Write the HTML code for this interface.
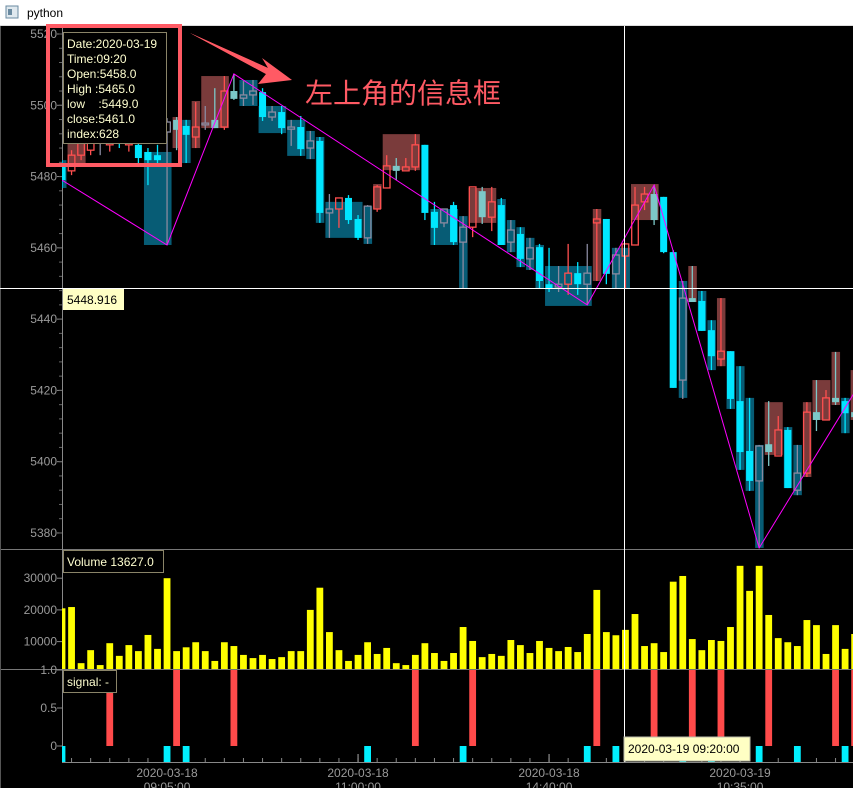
<!DOCTYPE html>
<html><head><meta charset="utf-8"><style>
html,body{margin:0;padding:0;background:#000;width:853px;height:788px;overflow:hidden}
svg text{font-family:"Liberation Sans","Noto Sans CJK SC",sans-serif}
</style></head><body>
<svg id="chart" width="853" height="788" viewBox="0 0 853 788" xmlns="http://www.w3.org/2000/svg">
<defs>
<clipPath id="cpMain"><rect x="62" y="26" width="791" height="523"/></clipPath>
<clipPath id="cpVol"><rect x="62" y="549" width="791" height="120"/></clipPath>
<clipPath id="cpSig"><rect x="62" y="669" width="791" height="93"/></clipPath>
</defs>
<rect x="0" y="0" width="853" height="788" fill="#000"/>
<g>
<rect x="0" y="0" width="853" height="25" fill="#fff"/>
<rect x="0" y="25" width="853" height="1" fill="#ddd"/>
<rect x="6" y="6" width="12" height="12" fill="#dfe8ee" stroke="#6a8aa0"/>
<rect x="8" y="9" width="4" height="6" fill="#6a8aa0"/>
<text x="27" y="17" font-size="12" fill="#000">python</text>
</g>
<g id="axes"></g>
<g id="mainMarks" clip-path="url(#cpMain)"></g>
<g id="volMarks" clip-path="url(#cpVol)"></g>
<g id="sigMarks" clip-path="url(#cpSig)"></g>
<g id="overlay"></g>
</svg>
<script>
// ---- data ----
const opens  = [5483.2,5481.6,5486.0,5487.4,5491.7,5488.9,5494.5,5488.9,5488.9,5486.9,5486.0,5495.3,5495.9,5494.2,5491.1,5495.0,5495.9,5493.9,5504.0,5502.9,5504.0,5503.7,5498.1,5498.1,5493.9,5493.9,5490.0,5490.0,5470.9,5470.9,5474.0,5468.1,5471.7,5470.9,5476.8,5483.0,5481.6,5482.7,5488.9,5470.1,5470.9,5472.0,5465.8,5465.8,5475.9,5468.6,5472.0,5465.0,5463.9,5460.0,5460.2,5449.8,5449.8,5449.8,5452.9,5452.9,5467.0,5468.1,5458.0,5457.7,5460.8,5472.9,5475.1,5474.3,5458.8,5445.9,5445.9,5445.1,5436.9,5428.8,5431.0,5417.0,5403.0,5404.4,5404.9,5401.6,5408.9,5396.8,5396.8,5413.9,5411.7,5417.9,5417.0,5413.9];
const closes = [5479.0,5486.0,5490.3,5490.8,5490.3,5493.6,5490.3,5493.1,5485.2,5484.6,5484.6,5492.5,5493.1,5491.7,5493.9,5494.5,5493.6,5504.0,5501.8,5502.0,5502.9,5496.7,5496.7,5493.6,5493.3,5487.7,5488.0,5469.8,5469.8,5474.0,5467.8,5462.8,5462.8,5477.1,5483.0,5481.6,5482.7,5488.9,5469.8,5465.6,5467.0,5461.6,5461.6,5477.1,5468.6,5472.9,5460.8,5461.6,5456.9,5456.9,5450.7,5448.7,5449.0,5452.9,5449.8,5449.8,5468.1,5452.7,5452.7,5461.1,5472.0,5475.1,5467.8,5458.8,5420.7,5422.9,5444.8,5436.7,5429.6,5431.0,5417.6,5402.7,5394.6,5394.6,5402.7,5408.9,5392.6,5392.0,5413.9,5411.7,5417.9,5416.7,5413.6,5412.5];
const highs  = [5484.6,5487.4,5493.1,5494.0,5496.0,5497.0,5496.0,5495.0,5490.0,5488.0,5488.9,5496.4,5496.7,5495.9,5500.9,5499.8,5504.8,5508.2,5508.8,5506.8,5507.1,5504.8,5499.8,5499.8,5495.9,5497.0,5492.8,5491.1,5475.1,5474.0,5474.8,5469.2,5472.0,5477.6,5486.0,5485.2,5485.2,5491.9,5488.9,5472.9,5470.9,5472.9,5468.9,5477.1,5477.1,5477.1,5474.0,5467.8,5465.8,5462.8,5461.1,5460.0,5454.9,5461.1,5456.0,5461.1,5470.9,5468.1,5460.0,5461.1,5477.1,5477.1,5477.6,5474.3,5459.4,5450.7,5454.9,5447.9,5439.7,5445.9,5431.0,5426.8,5417.9,5404.7,5417.0,5412.8,5409.7,5404.7,5416.7,5422.9,5420.1,5430.8,5417.9,5425.7];
const lows   = [5476.8,5480.4,5484.6,5486.0,5486.0,5487.0,5488.0,5487.0,5483.0,5477.6,5483.2,5460.8,5487.4,5483.8,5488.0,5493.1,5493.6,5493.1,5501.5,5499.8,5500.1,5495.6,5495.6,5491.9,5488.6,5485.8,5484.9,5467.0,5462.8,5465.6,5466.7,5462.2,5461.1,5470.1,5476.8,5479.0,5481.6,5481.6,5467.8,5460.8,5465.8,5460.8,5448.7,5463.0,5466.7,5464.7,5460.8,5458.8,5454.6,5453.8,5448.7,5447.6,5447.6,5446.8,5446.8,5444.0,5450.7,5449.8,5448.7,5448.7,5460.8,5470.6,5466.4,5458.5,5420.7,5417.6,5444.8,5436.7,5425.7,5426.8,5414.8,5397.7,5391.8,5375.8,5398.8,5401.6,5392.6,5390.6,5395.7,5408.6,5411.7,5415.9,5408.0,5411.7];
// candle style: u=up hollow red, d=down cyan, g=gray hollow, t=small teal
const styles = "duuugududd" + "dgtdugtutg" + "gdgdgdgdgu" + "ddguutuudd" + "gdgutudgdg" + "ddgudgudgu" + "uutddgtddu" + "dddgtudgut" + "utdt";
const volumes = [20500,20900,3200,7300,2600,9500,5500,8900,7000,12100,7700,30000,7000,8200,9800,7000,3900,9800,8600,5800,4800,5800,4500,5100,7000,7000,20000,27000,13000,7300,3900,5800,9800,6100,8000,3200,2600,5800,9500,6400,3900,6400,14600,10200,5100,6100,5500,10500,8900,6400,10200,8000,7000,8300,6700,12400,26300,13000,12000,13700,18700,8600,9500,6700,28900,30700,10800,7300,10500,10200,14600,33900,26000,33900,18400,11100,9800,8600,16800,15200,6100,15200,7700,12400];
const signalUpIdx = [5,12,18,37,43,56,62,66,69,74,81,83];
const signalDownIdx = [0,11,13,32,42,55,58,65,68,73,77,82];
const boxStart = [0,1,9,12,13,14,15,19,21,24,26,27,28,32,33,34,39,42,43,46,47,48,49,50,51,56,58,60,65,66,67,68,69,70,71,72,73,74,76,77,78,79,81,82,83];
const boxEnd   = [0,2,11,12,13,14,17,20,23,25,26,27,31,32,33,37,41,42,45,46,47,48,49,50,55,56,59,62,65,66,67,68,69,70,71,72,73,75,76,77,78,80,81,82,83];
const boxTop   = [5484.6,5489.4,5486.9,5496.7,5495.9,5501.2,5508.2,5507.1,5499.8,5495.9,5492.8,5491.1,5472.9,5471.7,5477.9,5491.9,5470.9,5468.9,5476.8,5473.7,5467.8,5465.8,5462.8,5460.8,5454.9,5470.9,5460.0,5477.9,5450.7,5454.9,5447.9,5439.7,5445.9,5431.0,5426.8,5417.9,5404.7,5416.7,5409.7,5404.7,5416.7,5422.9,5430.8,5417.9,5425.7];
const boxBottom= [5476.8,5483.2,5460.8,5488.0,5483.8,5488.0,5493.6,5499.8,5492.2,5485.8,5484.9,5467.0,5462.8,5461.1,5470.9,5481.8,5460.8,5448.7,5467.0,5460.8,5458.8,5454.6,5453.8,5448.7,5443.7,5450.7,5448.7,5467.8,5417.9,5444.8,5436.7,5425.7,5426.8,5414.8,5397.7,5391.8,5375.8,5401.9,5392.6,5390.6,5395.7,5411.7,5415.9,5408.0,5411.7];
const boxKind  = "tbtbtbbttt" + "ttttbbttbt" + "tttttbtbtb" + "ttbttttbtt" + "bbbtb";
const zigIdx = [0,11,18,55,62,73,83];
const zigPrice = [5479.0,5460.8,5508.8,5444.0,5477.6,5375.8,5419.5];
const priceTicks = [5520,5500,5480,5460,5440,5420,5400,5380];
const volTicks = [10000,20000,30000];
const volTickLabels = ["10000","20000","30000"];
const sigTicks = [0,0.5,1.0];
const sigTickLabels = ["0","0.5","1.0"];
const xLabelIdx = [11,31,51,71];
const xLabelDate = ["2020-03-18","2020-03-18","2020-03-18","2020-03-19"];
const xLabelTime = ["09:05:00","11:00:00","14:40:00","10:35:00"];

// ---- scales ----
const xC = i => 62 + 9.55*i;
const yP = p => 34 + (5520-p)*3.564;
const yV = v => 673.3 - v*0.00317;
const yS = s => 746 - s*76;
const NS = "http://www.w3.org/2000/svg";
function mk(parent, tag, attrs){const e=document.createElementNS(NS,tag);for(const k in attrs)e.setAttribute(k,attrs[k]);parent.appendChild(e);return e;}
const axes=document.getElementById('axes'), mm=document.getElementById('mainMarks'), vm=document.getElementById('volMarks'), sm=document.getElementById('sigMarks');

let l;
l=mk(axes,'line',{x1:0,y1:549.5,x2:853,y2:549.5,stroke:'#777','stroke-width':1});


l=mk(axes,'line',{x1:0,y1:669.5,x2:853,y2:669.5,stroke:'#777','stroke-width':1});


l=mk(axes,'line',{x1:62.5,y1:26,x2:62.5,y2:762,stroke:'#888','stroke-width':1});


l=mk(axes,'line',{x1:62,y1:762.5,x2:853,y2:762.5,stroke:'#888','stroke-width':1});


l=mk(axes,'line',{x1:0.5,y1:26,x2:0.5,y2:788,stroke:'#555','stroke-width':1});



priceTicks.forEach(p=>{
  const y=yP(p);
  const t=mk(axes,'text',{x:57,y:y+4,'font-size':12,fill:'#9a9a9a','text-anchor':'end'});
  t.textContent=p;
  
  
  mk(axes,'line',{x1:57,y1:y,x2:62,y2:y,stroke:'#888'});
});
for(let p=5380;p<=5520;p+=4){const y=yP(p);mk(axes,'line',{x1:59,y1:y,x2:62,y2:y,stroke:'#666'});}
volTicks.forEach((v,k)=>{
  const y=yV(v);
  const t=mk(axes,'text',{x:57,y:y+4,'font-size':12,fill:'#9a9a9a','text-anchor':'end'});
  t.textContent=volTickLabels[k];
  
  
  mk(axes,'line',{x1:57,y1:y,x2:62,y2:y,stroke:'#888'});
});
sigTicks.forEach((s,k)=>{
  const y=yS(s);
  const t=mk(axes,'text',{x:57,y:y+4,'font-size':12,fill:'#9a9a9a','text-anchor':'end'});
  t.textContent=sigTickLabels[k];
  
  
  mk(axes,'line',{x1:57,y1:y,x2:62,y2:y,stroke:'#888'});
});
for(let i=1;i<84;i+=2){const x=xC(i);mk(axes,'line',{x1:x,y1:762,x2:x,y2:758,stroke:'#888'});}
xLabelIdx.forEach((i,k)=>{
  const x=xC(i);
  mk(axes,'line',{x1:x,y1:762,x2:x,y2:754,stroke:'#aaa'});
  const t1=mk(axes,'text',{x:x,y:777,'font-size':12,fill:'#9a9a9a','text-anchor':'middle'});
  t1.textContent=xLabelDate[k];
  
  
  const t2=mk(axes,'text',{x:x,y:791,'font-size':12,fill:'#9a9a9a','text-anchor':'middle'});
  t2.textContent=xLabelTime[k];
  
  
});

boxStart.forEach((s,k)=>{
  const x0=xC(s)-4, x1=xC(boxEnd[k])+4.5, y0=yP(boxTop[k]), y1=yP(boxBottom[k]);
  const r=mk(mm,'rect',{x:x0,y:y0,width:x1-x0,height:y1-y0,fill:boxKind[k]==='b'?'#7a3b3b':'#075c75'});
  
  
});
opens.forEach((o,i)=>{
  const c=closes[i], st=styles[i], x=xC(i);
  const top=yP(Math.max(o,c)), bot=yP(Math.min(o,c));
  const col={u:'#ff4f4f',d:'#00e6ff',g:'#8a8aa0',t:'#7cc8c8'}[st];
  const g=mk(mm,'g',{});
  
  
  if(st==='u'||st==='g'){
    mk(g,'line',{x1:x,y1:yP(highs[i]),x2:x,y2:top,stroke:col,'stroke-width':1.3});
    mk(g,'line',{x1:x,y1:bot,x2:x,y2:yP(lows[i]),stroke:col,'stroke-width':1.3});
    mk(g,'rect',{x:x-3.3,y:top,width:6.6,height:Math.max(bot-top,1.5),fill:'none',stroke:col,'stroke-width':1.3});
  } else {
    mk(g,'line',{x1:x,y1:yP(highs[i]),x2:x,y2:yP(lows[i]),stroke:col,'stroke-width':1.3});
    mk(g,'rect',{x:x-3.5,y:top,width:7,height:Math.max(bot-top,1.5),fill:col});
  }
});
const pts=zigIdx.map((i,k)=>xC(i)+','+yP(zigPrice[k])).join(' ');
const zz=mk(mm,'polyline',{points:pts,fill:'none',stroke:'#ff00ff','stroke-width':1});



volumes.forEach((v,i)=>{
  const x=xC(i), y=yV(v);
  const r=mk(vm,'rect',{x:x-3.4,y:y,width:6.8,height:669-y,fill:'#ffff00'});
  
  
});
signalUpIdx.forEach(i=>{
  const x=xC(i);
  const r=mk(sm,'rect',{x:x-3.4,y:yS(1),width:6.8,height:yS(0)-yS(1),fill:'#ff4a4a'});
  
  
});
signalDownIdx.forEach(i=>{
  const x=xC(i);
  const r=mk(sm,'rect',{x:x-3.4,y:yS(0),width:6.8,height:yS(-1)-yS(0),fill:'#00f0ff'});
  
  
});
</script>
<svg style="position:absolute;left:0;top:0" width="853" height="788" viewBox="0 0 853 788">
<line x1="624.5" y1="26" x2="624.5" y2="762" stroke="#fff" stroke-width="1"/>
<line x1="0" y1="288.5" x2="853" y2="288.5" stroke="#fff" stroke-width="1"/>
<g>
<rect x="63" y="289" width="61" height="21" fill="#ffffc4"/>
<text x="67" y="304" font-size="12" fill="#000" font-family="Liberation Sans, sans-serif">5448.916</text>
</g>
<g font-family="Liberation Sans, sans-serif" font-size="12" fill="#ffffd0">
<rect x="63.5" y="32.5" width="103" height="111" fill="#000" stroke="#8a8468"/>
<text x="67" y="48">Date:2020-03-19</text>
<text x="67" y="63">Time:09:20</text>
<text x="67" y="78">Open:5458.0</text>
<text x="67" y="93">High :5465.0</text>
<text x="67" y="108" xml:space="preserve">low    :5449.0</text>
<text x="67" y="123">close:5461.0</text>
<text x="67" y="138">index:628</text>
</g>
<rect x="48" y="26" width="132" height="139" fill="none" stroke="#ff5a64" stroke-width="4"/>
<polygon points="190,33 268,68 262,58 292,80 258,84 266,74" fill="#ff5a64"/>
<polygon points="190,33 266,74 268,68" fill="#ff5a64"/>
<text x="305" y="103" font-size="28" fill="#ff5a64" font-family="Liberation Sans, Noto Sans CJK SC, sans-serif">左上角的信息框</text>
<g>
<rect x="63.5" y="550.5" width="100" height="22" fill="#000" stroke="#8a8468"/>
<text x="67" y="566" font-size="12" fill="#ffffd0" font-family="Liberation Sans, sans-serif">Volume 13627.0</text>
</g>
<g>
<rect x="63.5" y="670.5" width="53" height="22" fill="#000" stroke="#8a8468"/>
<text x="67" y="686" font-size="12" fill="#ffffd0" font-family="Liberation Sans, sans-serif">signal: -</text>
</g>
<g>
<rect x="624" y="737" width="126" height="24" fill="#ffffc4" stroke="#bba"/>
<text x="628" y="753" font-size="12" fill="#000" font-family="Liberation Sans, sans-serif">2020-03-19 09:20:00</text>
</g>
</svg>
</body></html>
